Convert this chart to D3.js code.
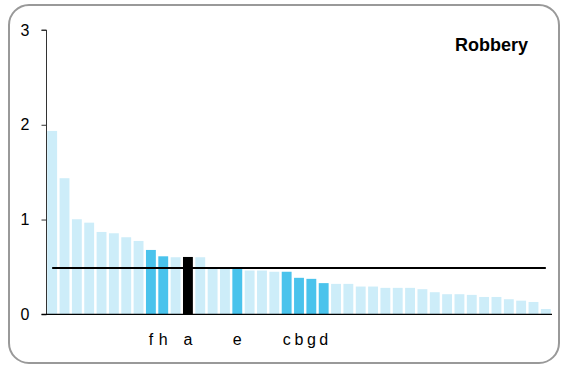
<!DOCTYPE html>
<html>
<head>
<meta charset="utf-8">
<script src="https://cdn.jsdelivr.net/npm/d3@7"></script>
<style>
  html, body { margin: 0; padding: 0; background: #fff; }
  svg { display: block; font-family: "Liberation Sans", Arial, sans-serif; }
</style>
</head>
<body>
<svg id="chart" width="563" height="366"></svg>
<script>
// ---- data ----
const title = "Robbery";
const values = [1.935, 1.436, 1.003, 0.967, 0.869, 0.855, 0.813, 0.774, 0.679, 0.612,
                0.602, 0.605, 0.602, 0.48, 0.48, 0.478, 0.462, 0.462, 0.449, 0.449,
                0.385, 0.374, 0.329, 0.321, 0.321, 0.293, 0.293, 0.279, 0.279, 0.279,
                0.265, 0.233, 0.212, 0.212, 0.205, 0.183, 0.183, 0.159, 0.144, 0.130,
                0.056];
const labels = ["", "", "", "", "", "", "", "", "f", "h",
                "", "a", "", "", "", "e", "", "", "", "c",
                "b", "g", "d", "", "", "", "", "", "", "",
                "", "", "", "", "", "", "", "", "", "",
                ""];
const focusLabel = "a";
const referenceValue = 0.488;
const yTicks = [0, 1, 2, 3];

// ---- chart ----
const svg = d3.select("#chart");
const idx = d3.range(values.length);

svg.append("rect")
  .attr("x", 9).attr("y", 5)
  .attr("width", 550).attr("height", 358)
  .attr("rx", 20).attr("ry", 20)
  .attr("fill", "#fff")
  .attr("stroke", "#999").attr("stroke-width", 2);

const x = d3.scaleBand().domain(idx).range([46, 552]).paddingInner(0.2).paddingOuter(0.1);
const y = d3.scaleLinear().domain([0, 3]).range([314.3, 30]);

function barColor(i) {
  if (labels[i] === focusLabel) return "#000";
  if (labels[i]) return "#4ac3ec";
  return "#cdedf9";
}

svg.append("g").selectAll("rect").data(idx).join("rect")
  .attr("x", i => x(i))
  .attr("y", i => y(values[i]))
  .attr("width", x.bandwidth())
  .attr("height", i => y(0) - y(values[i]))
  .attr("fill", barColor);

// y axis
const yAxis = svg.append("g")
  .attr("transform", "translate(46.5,0)")
  .call(d3.axisLeft(y).tickValues(yTicks).tickFormat(d3.format("d")).tickSize(5).tickPadding(12));
yAxis.select(".domain").attr("stroke", "#333").attr("d", `M-5,${y(3)}H0V${y(0)}`);
yAxis.selectAll(".tick line").attr("stroke", "#333");
yAxis.selectAll(".tick text")
  .attr("fill", "#000")
  .style("font-size", "16px")
  .style("font-family", "'Liberation Sans', Arial, sans-serif");

// x baseline
svg.append("line")
  .attr("x1", 41.5).attr("x2", 552)
  .attr("y1", y(0)).attr("y2", y(0))
  .attr("stroke", "#000").attr("stroke-width", 1.2);

// reference line
svg.append("line")
  .attr("x1", x(0) + x.bandwidth() / 2)
  .attr("x2", x(values.length - 1) + x.bandwidth() / 2)
  .attr("y1", y(referenceValue)).attr("y2", y(referenceValue))
  .attr("stroke", "#000").attr("stroke-width", 2);

// category labels
svg.append("g").selectAll("text").data(idx.filter(i => labels[i])).join("text")
  .attr("x", i => x(i) + x.bandwidth() / 2)
  .attr("y", 345)
  .attr("text-anchor", "middle")
  .style("font-size", "16px")
  .attr("fill", "#000")
  .text(i => labels[i]);

// title
svg.append("text")
  .attr("x", 528).attr("y", 51)
  .attr("text-anchor", "end")
  .style("font-size", "18px")
  .style("font-weight", "bold")
  .attr("fill", "#000")
  .text(title);
</script>
</body>
</html>
